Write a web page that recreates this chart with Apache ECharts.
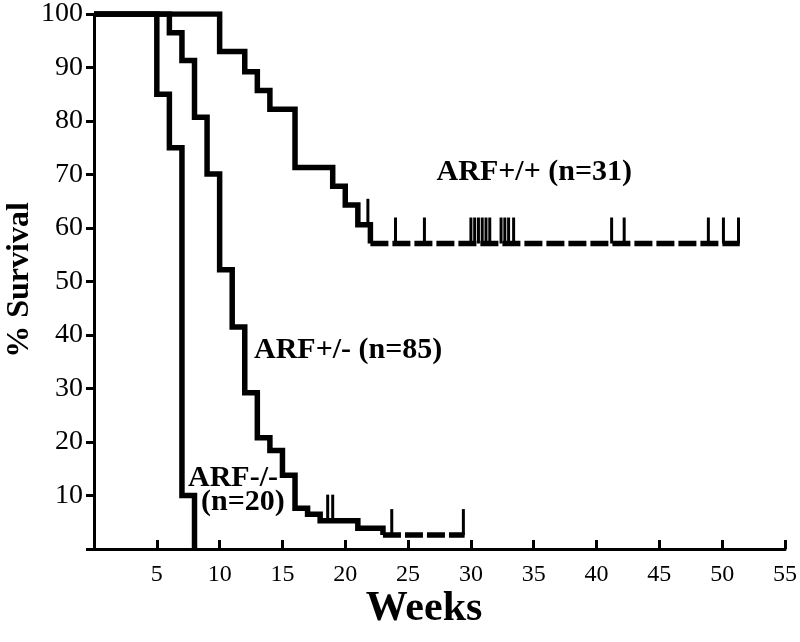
<!DOCTYPE html>
<html><head><meta charset="utf-8">
<script src="https://cdn.jsdelivr.net/npm/echarts@6/dist/echarts.min.js"></script>
<style>html,body{margin:0;padding:0;background:#fff}#c{width:800px;height:642px}</style>
</head><body><div id="c"></div>
<script>
// ---- data ----
const xTicks = [5,10,15,20,25,30,35,40,45,50,55];
const yTicks = [10,20,30,40,50,60,70,80,90,100];

// ARF-/- (n=20)
const nullTimes = [0, 5, 6, 7, 8];
const nullSurv  = [100, 85, 75, 10, 0];

// ARF+/- (n=85)
const hetTimes = [0, 6, 7, 8, 9, 10, 11, 12, 13, 14, 15, 16, 17, 18, 21, 23];
const hetSurv  = [100, 96.5, 91.3, 80.7, 70.1, 52.2, 41.5, 29.2, 20.8, 18.4, 13.8, 7.6, 6.5, 5.3, 3.9, 2.6];
const hetTailEnd = 29.5;
const hetCensorTimes = [18.6, 19.0, 23.7, 29.4];
const hetCensorSurv  = [5.3, 5.3, 2.6, 2.6];

// ARF+/+ (n=31)
const wtTimes = [0, 10, 12, 13, 14, 16, 19, 20, 21, 22];
const wtSurv  = [100, 93, 89.2, 85.7, 82.2, 71.3, 67.8, 64.3, 60.6, 57.1];
const wtTailEnd = 51.4;
const wtCensorTimes = [21.8, 24.0, 26.3, 30.0, 30.3, 30.6, 30.9, 31.2, 31.5, 32.4, 32.7, 33.0, 33.4, 41.2, 42.2, 48.9, 50.1, 51.3];
const wtCensorSurv  = [60.6, 57.1, 57.1, 57.1, 57.1, 57.1, 57.1, 57.1, 57.1, 57.1, 57.1, 57.1, 57.1, 57.1, 57.1, 57.1, 57.1, 57.1];

// ---- build ----
const pairs = (a, b) => a.map((v, i) => [v, b[i]]);
const FONT = "'Liberation Serif', 'Times New Roman', serif";
const lineW = 5.5;

function stepSeries(data, dashed) {
  return {
    type: 'line', step: 'end', data: data, symbol: 'none', silent: true,
    lineStyle: { color: '#000', width: lineW, type: dashed ? [18, 4] : 'solid', cap: 'butt', join: 'miter' },
    z: 3
  };
}
function censorSeries(data) {
  return {
    type: 'custom', data: data, silent: true, z: 4,
    renderItem: function (params, api) {
      const p = api.coord([api.value(0), api.value(1)]);
      return { type: 'line', shape: { x1: p[0], y1: p[1], x2: p[0], y2: p[1] - 26 },
               style: { stroke: '#000', lineWidth: 3 } };
    }
  };
}

const hetLast = hetSurv[hetSurv.length - 1];
const wtLast = wtSurv[wtSurv.length - 1];

const chart = echarts.init(document.getElementById('c'), null, { renderer: 'canvas' });
chart.setOption({
  animation: false,
  backgroundColor: '#fff',
  grid: { left: 94, right: 13, top: 11, bottom: 93 },
  xAxis: {
    type: 'value', min: 0, max: 55, interval: 5,
    axisLine: { lineStyle: { color: '#000', width: 3 } },
    axisTick: { inside: true, length: 9, lineStyle: { color: '#000', width: 3 } },
    splitLine: { show: false },
    axisLabel: { color: '#000', fontFamily: FONT, fontSize: 24, margin: 14,
      formatter: v => xTicks.indexOf(v) >= 0 ? String(v) : '' }
  },
  yAxis: {
    type: 'value', min: 0, max: 100, interval: 10,
    axisLine: { lineStyle: { color: '#000', width: 3 } },
    axisTick: { inside: false, length: 8, lineStyle: { color: '#000', width: 3 } },
    splitLine: { show: false },
    axisLabel: { color: '#000', fontFamily: FONT, fontSize: 28, margin: 11,
      formatter: v => yTicks.indexOf(v) >= 0 ? String(v) : '' }
  },
  series: [
    stepSeries(pairs(nullTimes, nullSurv), false),
    stepSeries(pairs(hetTimes, hetSurv), false),
    stepSeries([[hetTimes[hetTimes.length - 1], hetLast], [hetTailEnd, hetLast]], true),
    stepSeries(pairs(wtTimes, wtSurv), false),
    stepSeries([[wtTimes[wtTimes.length - 1], wtLast], [wtTailEnd, wtLast]], true),
    censorSeries(pairs(hetCensorTimes, hetCensorSurv)),
    censorSeries(pairs(wtCensorTimes, wtCensorSurv))
  ],
  graphic: [
    { type: 'text', x: 20, y: 280, rotation: Math.PI / 2,
      style: { text: '% Survival', font: 'bold 32px ' + FONT, fill: '#000', textAlign: 'center', textVerticalAlign: 'middle' } },
    { type: 'text', x: 424, y: 609,
      style: { text: 'Weeks', font: 'bold 42px ' + FONT, fill: '#000', textAlign: 'center', textVerticalAlign: 'middle' } },
    { type: 'text', x: 632, y: 172,
      style: { text: 'ARF+/+ (n=31)', font: 'bold 30px ' + FONT, fill: '#000', textAlign: 'right', textVerticalAlign: 'middle' } },
    { type: 'text', x: 254, y: 350,
      style: { text: 'ARF+/- (n=85)', font: 'bold 30px ' + FONT, fill: '#000', textAlign: 'left', textVerticalAlign: 'middle' } },
    { type: 'text', x: 188, y: 478,
      style: { text: 'ARF-/-', font: 'bold 30px ' + FONT, fill: '#000', textAlign: 'left', textVerticalAlign: 'middle' } },
    { type: 'text', x: 201, y: 502,
      style: { text: '(n=20)', font: 'bold 30px ' + FONT, fill: '#000', textAlign: 'left', textVerticalAlign: 'middle' } }
  ]
});
</script></body></html>
